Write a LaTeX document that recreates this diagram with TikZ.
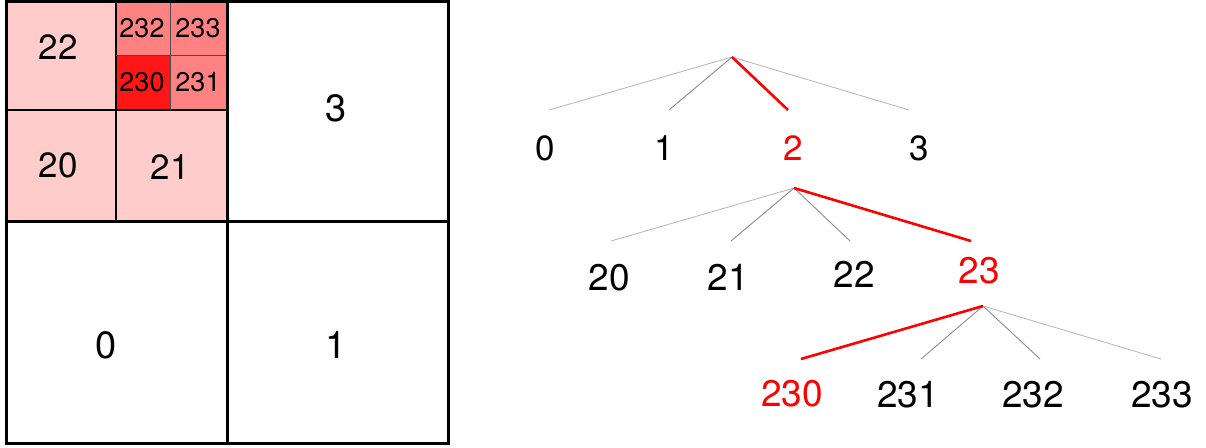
\documentclass[tikz,border=0pt]{standalone}
\usepackage{fontspec}
\setmainfont{TeX Gyre Heros}
\definecolor{pinkl}{HTML}{FFCCCC}
\definecolor{pinkm}{HTML}{FF8282}
\definecolor{redd}{HTML}{FF1616}
\definecolor{grayl}{HTML}{BBBBBB}
\definecolor{graym}{HTML}{8C8C8C}
\begin{document}
\begin{tikzpicture}[x=1pt,y=-1pt,
  lbl/.style={inner sep=0pt,anchor=center},
  big/.style={lbl,font=\fontsize{38}{38}\selectfont},
  mid/.style={lbl,font=\fontsize{35}{35}\selectfont},
  small/.style={lbl,font=\fontsize{27}{27}\selectfont},
  tlab/.style={lbl,font=\fontsize{35}{35}\selectfont},
  tlabb/.style={lbl,font=\fontsize{37}{37}\selectfont},
  hot/.style={text=red},
  thick border/.style={line width=3pt,black},
  thin border/.style={line width=1.1pt,black},
  faint/.style={line width=0.9pt,grayl},
  dim/.style={line width=0.9pt,graym},
  path edge/.style={line width=2.6pt,red}]
\useasboundingbox (0,0) rectangle (1206,447);
% ---- grid ----
\fill[pinkl] (6.5,1.5) rectangle (227,221);
\fill[pinkm] (116,1.5) rectangle (227,110);
\fill[redd] (116,55) rectangle (170,110);
\draw[thin border] (116,1.5) -- (116,221);
\draw[thin border] (6.5,110) -- (227,110);
\draw[line width=0.8pt,black!70] (170,1.5) -- (170,110);
\draw[line width=0.8pt,black!70] (116,55) -- (227,55);
\draw[thick border] (227,1.5) -- (227,443);
\draw[thick border] (6.5,221) -- (448,221);
\draw[thick border] (6.5,1.5) rectangle (448,443);
\node[mid] (g22) at (58,47) {22};
\node[small] (g232) at (142,28) {232};
\node[small] (g233) at (198,28) {233};
\node[small] (g230) at (142,82) {230};
\node[small] (g231) at (198,82) {231};
\node[mid] (g20) at (58,165) {20};
\node[mid] (g21) at (170,167) {21};
\node[big] (g3) at (336,108) {3};
\node[big] (g0) at (106,345) {0};
\node[big] (g1) at (336,345) {1};
% ---- tree level 1 ----
\coordinate (r1) at (732,57);
\coordinate (e0) at (549,110);
\coordinate (e1) at (669,110);
\coordinate (e2) at (788,110);
\coordinate (e3) at (909,110);
\node[tlab] (t0) at (545,148) {0};
\node[tlab] (t1) at (664,148) {1};
\node[tlab,hot] (t2) at (793,148) {2};
\node[tlab] (t3) at (919,148) {3};
\draw[faint] (r1) -- (e0);
\draw[dim] (r1) -- (e1);
\draw[faint] (r1) -- (e3);
\draw[path edge] (r1) -- (e2);
% ---- tree level 2 ----
\coordinate (r2) at (794,188);
\coordinate (e20) at (611,241);
\coordinate (e21) at (731,241);
\coordinate (e22) at (850,241);
\coordinate (e23) at (971,241);
\node[tlabb] (t20) at (609,278) {20};
\node[tlabb] (t21) at (728,277) {21};
\node[tlabb] (t22) at (854,274) {22};
\node[tlabb,hot] (t23) at (979,271) {23};
\draw[faint] (r2) -- (e20);
\draw[dim] (r2) -- (e21);
\draw[dim] (r2) -- (e22);
\draw[path edge] (r2) -- (e23);
% ---- tree level 3 ----
\coordinate (r3) at (983,306);
\coordinate (e230) at (801,359);
\coordinate (e231) at (921,359);
\coordinate (e232) at (1040,359);
\coordinate (e233) at (1161,359);
\node[tlabb,hot] (t230) at (792,394) {230};
\node[tlabb] (t231) at (908,395) {231};
\node[tlabb] (t232) at (1033,395) {232};
\node[tlabb] (t233) at (1162,395) {233};
\draw[dim] (r3) -- (e231);
\draw[dim] (r3) -- (e232);
\draw[faint] (r3) -- (e233);
\draw[path edge] (r3) -- (e230);
\end{tikzpicture}
\end{document}
